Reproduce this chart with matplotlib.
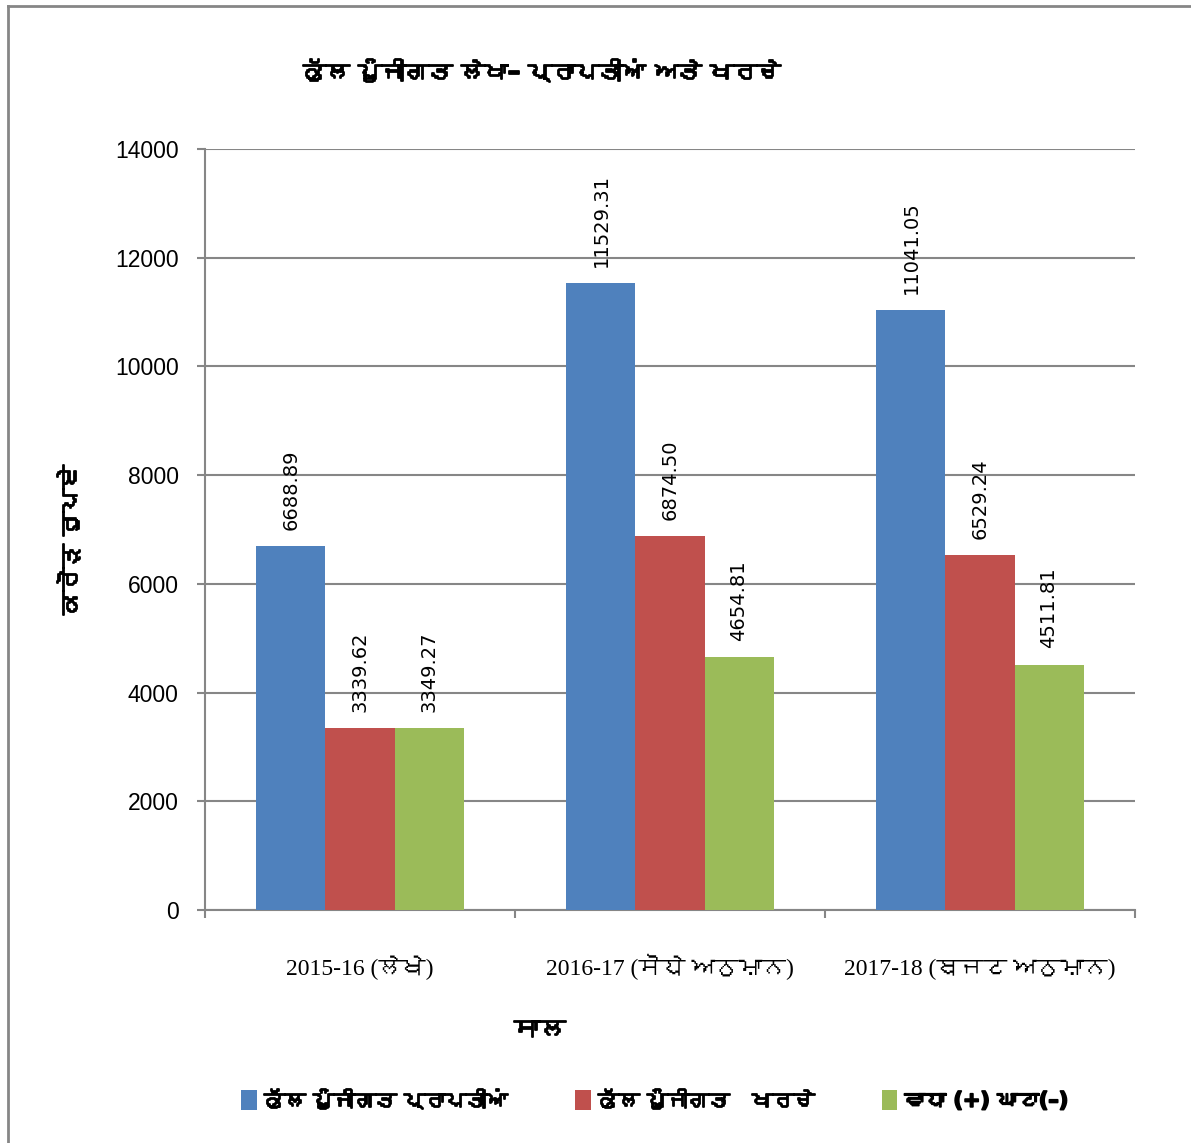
import matplotlib
matplotlib.use("Agg")
import matplotlib.pyplot as plt
import matplotlib.patheffects as pe
from matplotlib import font_manager
from matplotlib.ft2font import FT2Font
from matplotlib.patches import Patch
from matplotlib.lines import Line2D
import numpy as np

# ---------------- data ----------------
categories = ["2015-16 (ਲੇਖੇ)", "2016-17 (ਸੋਧੇ ਅਨੁਮਾਨ)", "2017-18 (ਬਜਟ ਅਨੁਮਾਨ)"]
series_names = ["ਕੁੱਲ ਪੂੰਜੀਗਤ ਪ੍ਰਾਪਤੀਆਂ", "ਕੁੱਲ ਪੂੰਜੀਗਤ   ਖਰਚੇ", "ਵਾਧਾ (+) ਘਾਟਾ(–)"]
receipts = [6688.89, 11529.31, 11041.05]
expenditure = [3339.62, 6874.50, 6529.24]
surplus = [3349.27, 4654.81, 4511.81]
yticks = [0, 2000, 4000, 6000, 8000, 10000, 12000, 14000]
title = "ਕੁੱਲ ਪੂੰਜੀਗਤ ਲੇਖਾ– ਪ੍ਰਾਪਤੀਆਂ ਅਤੇ ਖਰਚੇ"
ylabel = "ਕਰੋੜ ਰੁਪਏ"
xlabel = "ਸਾਲ"

colors = ["#4F81BD", "#C0504D", "#9BBB59"]

# find a font with Gurmukhi glyphs if any
gur = []
for f in font_manager.fontManager.ttflist:
    try:
        cm = FT2Font(f.fname).get_charmap()
        if 0x0A15 in cm and f.name not in gur:
            gur.append(f.name)
    except Exception:
        pass

sans = ["Liberation Sans", "DejaVu Sans"] + gur
serif = ["Liberation Serif", "DejaVu Serif"] + gur
boldfam = ["DejaVu Sans"] + gur
thick = [pe.withStroke(linewidth=1.3, foreground="black")]

plt.rcParams["font.family"] = sans

fig = plt.figure(figsize=(11.91, 11.43), dpi=100)
ax = fig.add_axes([205/1191, 1-910/1143, 930/1191, 761/1143])

x = np.arange(len(categories))
w = 0.2226
all_series = [receipts, expenditure, surplus]
for i, (vals, c) in enumerate(zip(all_series, colors)):
    bars = ax.bar(x + (i-1)*w, vals, width=w, color=c, zorder=3, linewidth=0)
    for b, v in zip(bars, vals):
        ax.text(b.get_x()+b.get_width()/2, v + 300, f"{v:.2f}", rotation=90,
                ha="center", va="bottom", fontsize=14, family=["DejaVu Sans"], zorder=4)

ax.set_xlim(-0.5, 2.5)
ax.set_ylim(0, 14000)
ax.set_yticks(yticks)
ax.set_yticklabels([str(t) for t in yticks], fontsize=16.5)
ax.yaxis.grid(True, color="#868686", linewidth=1.5, zorder=0)
ax.set_xticks([-0.5, 0.5, 1.5, 2.5])
ax.set_xticklabels([])
for xi, cat in zip(x, categories):
    ax.text(xi, -0.0854, cat, transform=ax.get_xaxis_transform(), ha="center",
            va="baseline", fontsize=17, family=serif)
ax.tick_params(axis="x", which="major", length=6, color="#868686", width=1.5, direction="out")
ax.tick_params(axis="y", length=6, color="#868686", width=1.5, direction="out", pad=13)
for s in ["top", "right"]:
    ax.spines[s].set_visible(False)
for s in ["left", "bottom"]:
    ax.spines[s].set_color("#868686")
    ax.spines[s].set_linewidth(1.5)

fig.text(542/1191, 1-72/1143, title, ha="center", va="center", fontsize=17,
         fontweight="bold", family=boldfam, path_effects=thick)
fig.text(70/1191, 1-540/1143, ylabel, ha="center", va="center", rotation=90,
         fontsize=17, fontweight="bold", family=boldfam, path_effects=thick)
fig.text(540/1191, 1-1030/1143, xlabel, ha="center", va="center",
         fontsize=19, fontweight="bold", family=boldfam, path_effects=thick)

handles = [Patch(facecolor=c, edgecolor="none") for c in colors]
leg = fig.legend(handles, series_names, loc="center", bbox_to_anchor=(655/1191, 1-1100/1143),
                 ncol=3, frameon=False, handlelength=0.75, handleheight=1.1,
                 handletextpad=0.35, columnspacing=3.2,
                 prop={"size": 15, "weight": "bold", "family": boldfam})
for t in leg.get_texts():
    t.set_path_effects(thick)

# figure frame (left & top visible)
fig.add_artist(Line2D([8/1191, 8/1191], [0, 1-6/1143], transform=fig.transFigure,
                      color="#868686", linewidth=2))
fig.add_artist(Line2D([8/1191, 1], [1-6/1143, 1-6/1143], transform=fig.transFigure,
                      color="#868686", linewidth=2))

fig.savefig("out.png", dpi=100)
